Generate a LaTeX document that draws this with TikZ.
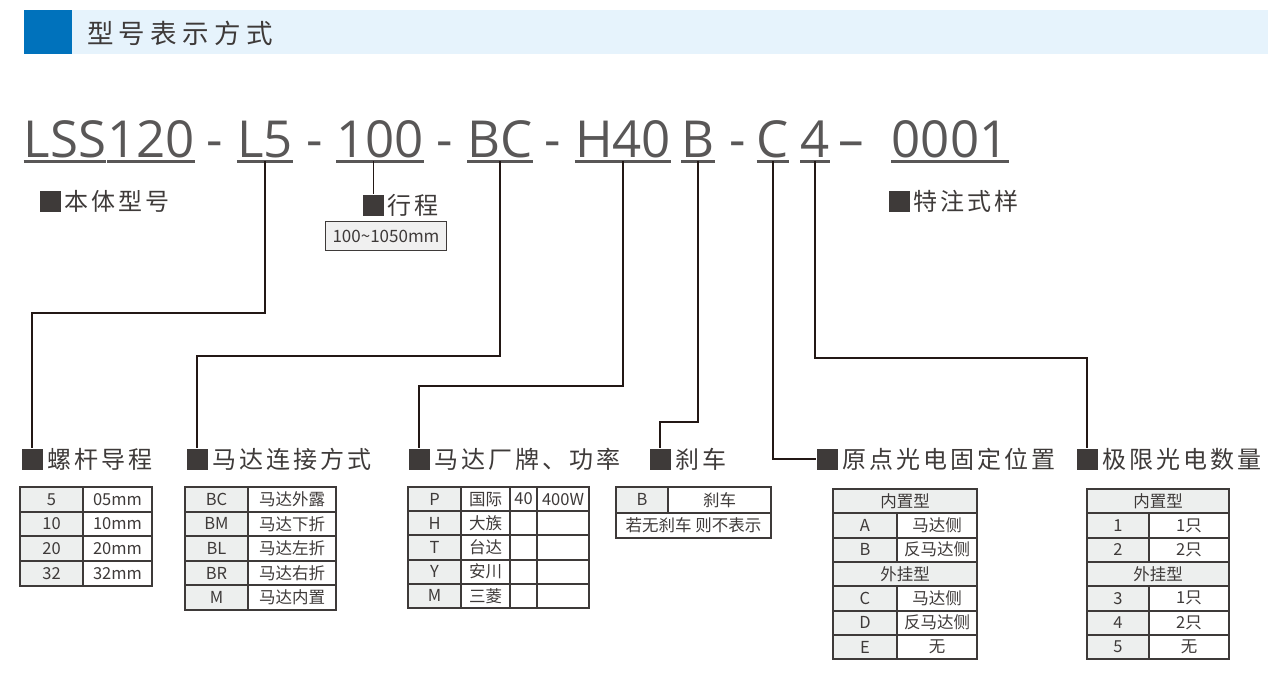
\documentclass[tikz,border=0pt]{standalone}
\usepackage{fontspec}
\setmainfont{Noto Sans CJK SC}
\newfontfamily\codefont{Open Sans}
\usetikzlibrary{positioning}

\definecolor{titleblue}{HTML}{0072BC}
\definecolor{barblue}{HTML}{E6F3FC}
\definecolor{ink}{HTML}{3E3A39}
\definecolor{codegray}{HTML}{595757}
\definecolor{wire}{HTML}{231815}
\definecolor{cellgray}{HTML}{EDEFEE}
\definecolor{boxgray}{HTML}{F0F0F0}

\begin{document}
\begin{tikzpicture}[
    x=1pt, y=-1pt,
    every node/.style={font=\fontsize{16.5}{18}\selectfont, text=ink},
    title/.style={font=\addfontfeature{LetterSpace=20}\fontsize{26.5}{30}\selectfont, text=ink, anchor=west, inner sep=0pt},
    seg/.style={font=\codefont\fontsize{51}{56}\selectfont, text=codegray, anchor=base, inner xsep=0pt, inner ysep=4pt, text depth=0pt},
    uline/.style={draw=codegray, line width=3pt},
    sq/.style={fill=ink, minimum size=21pt, inner sep=0pt},
    lbl/.style={font=\addfontfeature{LetterSpace=12}\fontsize{24}{28}\selectfont, text=ink, inner sep=0pt},
    conn/.style={draw=wire, line width=2.5pt},
    key/.style={draw=ink, line width=2pt, fill=cellgray, anchor=north west, inner sep=0pt, outer sep=0pt},
    val/.style={draw=ink, line width=2pt, fill=white, anchor=north west, inner sep=0pt, outer sep=0pt}
]
\useasboundingbox (0,0) rectangle (1276,693);

% Title bar
\fill[barblue] (72,10) rectangle (1268,54);
\fill[titleblue] (24,10) rectangle (72,54);
\node[title] (title) at (87,33) {型号表示方式};

% Model code
\node[seg] (lss) at (65,157) {LSS};
\node[seg] (n120) at (151,157) {120};
\node[seg] (d1) at (215,157) {-};
\node[seg] (l5) at (265,157) {L5};
\node[seg] (d2) at (315,157) {-};
\node[seg] (n100) at (380,157) {100};
\node[seg] (d3) at (445,157) {-};
\node[seg] (bc) at (500,157) {BC};
\node[seg] (d4) at (553,157) {-};
\node[seg] (h40) at (623,157) {H40};
\node[seg] (b) at (698,157) {B};
\node[seg] (d5) at (738,157) {-};
\node[seg] (c) at (773,157) {C};
\node[seg] (four) at (815,157) {4};
\node[seg] (d6) at (851,157) {–};
\node[seg] (serial) at (950,157) {0001};
\foreach \n in {lss,n120,l5,n100,bc,h40,b,c,four,serial}
    \draw[uline] (\n.south west) -- (\n.south east);

% Body, stroke, special
\node[sq] (sqbody) at (50,201) {};
\node[lbl, right=4pt of sqbody] (body) {本体型号};
\node[sq] (sqstroke) at (373,205) {};
\node[lbl, right=4pt of sqstroke] (stroke) {行程};
\node[draw=ink, line width=1pt, fill=boxgray, minimum width=121pt, minimum height=29pt, inner sep=0pt, font=\fontsize{17}{19}\selectfont] (range) at (386,236) {100\textasciitilde1050mm};
\node[sq] (sqspecial) at (899,201) {};
\node[lbl, right=4pt of sqspecial] (special) {特注式样};
\draw[wire, line width=1pt] (sqstroke.north |- n100.south) -- (sqstroke.north);

% Option labels
\node[sq] (sqlead) at (32,459) {};
\node[lbl, right=5pt of sqlead] (lead) {螺杆导程};
\node[sq] (sqmount) at (197,459) {};
\node[lbl, right=5pt of sqmount] (mount) {马达连接方式};
\node[sq] (sqmotor) at (419,459) {};
\node[lbl, right=5pt of sqmotor] (motor) {马达厂牌、功率};
\node[sq] (sqbrake) at (660,459) {};
\node[lbl, right=5pt of sqbrake] (brake) {刹车};
\node[sq] (sqorigin) at (827,459) {};
\node[lbl, right=5pt of sqorigin] (origin) {原点光电固定位置};
\node[sq] (sqlimit) at (1087,459) {};
\node[lbl, right=5pt of sqlimit] (limit) {极限光电数量};

% Connectors
\draw[conn] (l5.south) -- ++(0,152) -| (sqlead.north);
\draw[conn] (bc.south) -- ++(0,195) -| (sqmount.north);
\draw[conn] (h40.south) -- ++(0,225) -| (sqmotor.north);
\draw[conn] (b.south) -- ++(0,261) -| (sqbrake.north);
\draw[conn] (c.south) |- (sqorigin.west);
\draw[conn] (four.south) -- ++(0,197) -| (sqlimit.north);

% Lead table
\foreach \k/\v [count=\i from 0] in {5/05mm,10/10mm,20/20mm,32/32mm} {
    \node[key, minimum width=63pt, minimum height=24.7pt] (leadk\i) at (20,487+24.7*\i) {\k};
    \node[val, minimum width=69pt, minimum height=24.7pt, right=0pt of leadk\i] (leadv\i) {\v};
}

% Mount table
\foreach \k/\v [count=\i from 0] in {BC/马达外露,BM/马达下折,BL/马达左折,BR/马达右折,M/马达内置} {
    \node[key, minimum width=63pt, minimum height=24.6pt] (mountk\i) at (185,487+24.6*\i) {\k};
    \node[val, minimum width=88pt, minimum height=24.6pt, right=0pt of mountk\i] (mountv\i) {\v};
}

% Motor table
\foreach \k/\v/\p/\w [count=\i from 0] in {P/国际/40/400W,H/大族/{}/{},T/台达/{}/{},Y/安川/{}/{},M/三菱/{}/{}} {
    \node[key, minimum width=53pt, minimum height=24.2pt] (motork\i) at (408,487+24.2*\i) {\k};
    \node[val, minimum width=49pt, minimum height=24.2pt, right=0pt of motork\i] (motorv\i) {\v};
    \node[val, minimum width=27pt, minimum height=24.2pt, right=0pt of motorv\i] (motorf\i) {\p};
    \node[val, minimum width=52pt, minimum height=24.2pt, right=0pt of motorf\i] (motorw\i) {\w};
}

% Brake table
\node[key, minimum width=52pt, minimum height=25.5pt] (brakek) at (616,487) {B};
\node[val, minimum width=103pt, minimum height=25.5pt, right=0pt of brakek] (brakev) {刹车};
\node[val, minimum width=155pt, minimum height=25.5pt] (brakenote) at (616,512.5) {若无刹车 则不表示};

% Origin table
\node[key, minimum width=144pt, minimum height=24.3pt] (originh1) at (833,489) {内置型};
\node[key, minimum width=144pt, minimum height=24.3pt] (originh2) at (833,561.9) {外挂型};
\foreach \k/\v/\r in {A/马达侧/1,B/反马达侧/2,C/马达侧/4,D/反马达侧/5,E/无/6} {
    \node[key, minimum width=64pt, minimum height=24.3pt] (origink\r) at (833,489+24.3*\r) {\k};
    \node[val, minimum width=80pt, minimum height=24.3pt, right=0pt of origink\r] (originv\r) {\v};
}

% Limit table
\node[key, minimum width=142pt, minimum height=24.3pt] (limith1) at (1087,489) {内置型};
\node[key, minimum width=142pt, minimum height=24.3pt] (limith2) at (1087,561.9) {外挂型};
\foreach \k/\v/\r in {1/1只/1,2/2只/2,3/1只/4,4/2只/5,5/无/6} {
    \node[key, minimum width=62pt, minimum height=24.3pt] (limitk\r) at (1087,489+24.3*\r) {\k};
    \node[val, minimum width=80pt, minimum height=24.3pt, right=0pt of limitk\r] (limitv\r) {\v};
}

\end{tikzpicture}
\end{document}
